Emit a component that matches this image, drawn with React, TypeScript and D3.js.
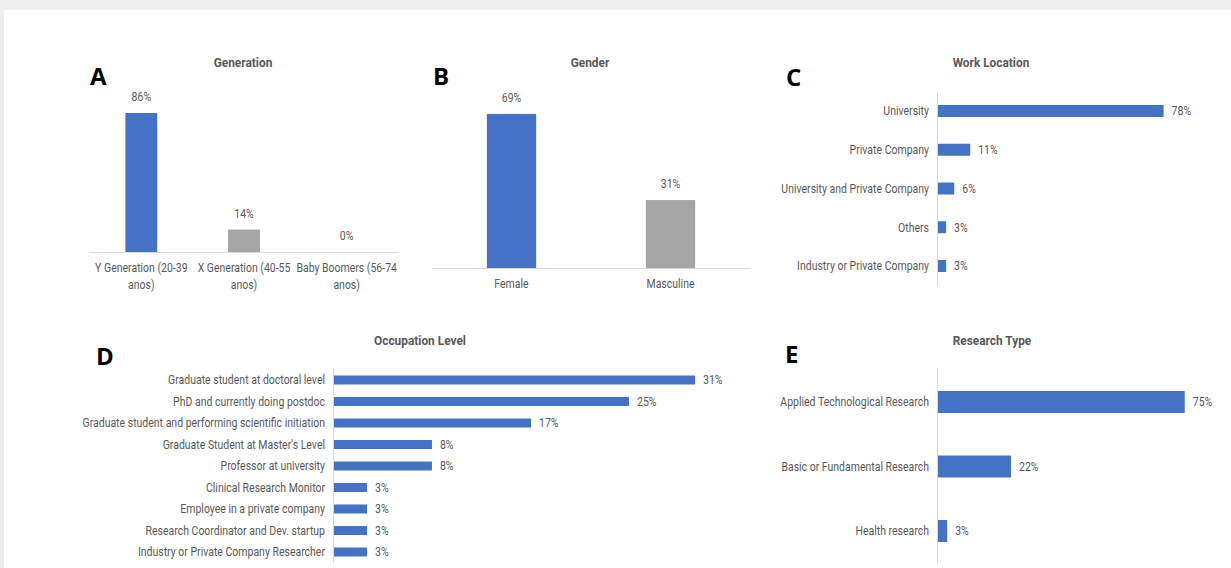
import React from "react";
import * as d3 from "d3";

const genCategories = ["Y Generation (20-39|anos)", "X Generation (40-55|anos)", "Baby Boomers (56-74|anos)"];
const genValues = [0.861, 0.139, 0.0];
const genderCategories = ["Female", "Masculine"];
const genderValues = [0.694, 0.306];
const workCategories = ["University", "Private Company", "University and Private Company", "Others", "Industry or Private Company"];
const workValues = [0.778, 0.111, 0.056, 0.028, 0.028];
const occCategories = [
  "Graduate student at doctoral level",
  "PhD and currently doing postdoc",
  "Graduate student and performing scientific initiation",
  "Graduate Student at Master's Level",
  "Professor at university",
  "Clinical Research Monitor",
  "Employee in a private company",
  "Research Coordinator and Dev. startup",
  "Industry or Private Company Researcher",
];
const occValues = [0.306, 0.25, 0.167, 0.083, 0.083, 0.028, 0.028, 0.028, 0.028];
const researchCategories = ["Applied Technological Research", "Basic or Fundamental Research", "Health research"];
const researchValues = [0.75, 0.222, 0.028];

const BLUE = "#4472C4";
const GRAY = "#A5A5A5";
const TXT = "#595959";
const AXIS = "#D9D9D9";
const FONT = "Roboto, 'Liberation Sans', sans-serif";
const pct = d3.format(".0%");

type TProps = { x: number; y: number; anchor?: string; size?: number; weight?: number; sx?: number; mid?: boolean; children: React.ReactNode };
function T({ x, y, anchor = "start", size = 12.5, weight = 400, sx = 0.84, mid = false, children }: TProps) {
  return (
    <text transform={`translate(${x},${y}) scale(${sx},1)`} textAnchor={anchor} dy={mid ? "0.35em" : undefined}
      fontFamily={FONT} fontSize={size} fontWeight={weight} fill={TXT}>{children}</text>
  );
}

type VProps = {
  cats: string[]; vals: number[]; colors: string[];
  x0: number; x1: number; base: number; top: number; barFrac: number;
  title: string; tx: number; ty: number; letter: string; lx: number; ly: number;
};

function VerticalPanel(p: VProps) {
  const x = d3.scaleBand<string>().domain(p.cats).range([p.x0, p.x1]).padding(0);
  const y = d3.scaleLinear().domain([0, 1]).range([p.base, p.top]);
  const bw = x.bandwidth() * p.barFrac;
  return (
    <g>
      <text x={p.lx} y={p.ly} fontFamily="'Open Sans', sans-serif" fontWeight={700} fontSize={24} fill="#000">{p.letter}</text>
      <T x={p.tx} y={p.ty} anchor="middle" mid size={13.5} weight={700} sx={0.88}>{p.title}</T>
      {p.cats.map((c, i) => {
        const cx = (x(c) as number) + x.bandwidth() / 2;
        return (
          <g key={c}>
            {p.vals[i] > 0 && (
              <rect x={cx - bw / 2} y={y(p.vals[i])} width={bw} height={p.base - y(p.vals[i])} fill={p.colors[i % p.colors.length]} />
            )}
            <T x={cx} y={y(p.vals[i]) - 12} anchor="middle">{pct(p.vals[i])}</T>
            {c.split("|").map((line, j) => (
              <T key={j} x={cx} y={p.base + 20 + j * 17} anchor="middle">{line}</T>
            ))}
          </g>
        );
      })}
      <line x1={p.x0} x2={p.x1} y1={p.base + 0.5} y2={p.base + 0.5} stroke={AXIS} strokeWidth={1} />
    </g>
  );
}

type HProps = {
  cats: string[]; vals: number[]; axisX: number; perUnit: number;
  y0: number; y1: number; barH: number; lineY0: number; lineY1: number;
  title: string; tx: number; ty: number; letter: string; lx: number; ly: number;
};

function HorizontalPanel(p: HProps) {
  const y = d3.scaleBand<string>().domain(p.cats).range([p.y0, p.y1]).padding(0);
  const x = d3.scaleLinear().domain([0, 1]).range([p.axisX + 1, p.axisX + 1 + p.perUnit]);
  return (
    <g>
      <text x={p.lx} y={p.ly} fontFamily="'Open Sans', sans-serif" fontWeight={700} fontSize={24} fill="#000">{p.letter}</text>
      <T x={p.tx} y={p.ty} anchor="middle" mid size={13.5} weight={700} sx={0.88}>{p.title}</T>
      {p.cats.map((c, i) => {
        const cy = (y(c) as number) + y.bandwidth() / 2;
        return (
          <g key={c}>
            <rect x={x(0)} y={cy - p.barH / 2} width={x(p.vals[i]) - x(0)} height={p.barH} fill={BLUE} />
            <T x={p.axisX - 8} y={cy} mid anchor="end">{c}</T>
            <T x={x(p.vals[i]) + 8} y={cy} mid anchor="start">{pct(p.vals[i])}</T>
          </g>
        );
      })}
      <line x1={p.axisX + 0.5} x2={p.axisX + 0.5} y1={p.lineY0} y2={p.lineY1} stroke={AXIS} strokeWidth={1} />
    </g>
  );
}

export default function App() {
  return (
    <div style={{ position: "absolute", left: 0, top: 0, width: 1231, height: 568, overflow: "hidden" }}>
      <svg width={1231} height={568} style={{ display: "block" }}>
        <rect x={0} y={0} width={1231} height={568} fill="#EEEEEE" />
        <rect x={4} y={10} width={1227} height={558} fill="#FFFFFF" />
        <VerticalPanel cats={genCategories} vals={genValues} colors={[BLUE, GRAY, GRAY]}
          x0={90} x1={398} base={252} top={90.6} barFrac={0.31}
          title="Generation" tx={243} ty={62} letter="A" lx={90} ly={85} />
        <VerticalPanel cats={genderCategories} vals={genderValues} colors={[BLUE, GRAY]}
          x0={432} x1={750} base={268} top={46} barFrac={0.31}
          title="Gender" tx={590} ty={62} letter="B" lx={433} ly={85} />
        <HorizontalPanel cats={workCategories} vals={workValues} axisX={937} perUnit={290}
          y0={91.6} y1={285.4} barH={12} lineY0={92} lineY1={286}
          title="Work Location" tx={991} ty={62} letter="C" lx={786} ly={86} />
        <HorizontalPanel cats={occCategories} vals={occValues} axisX={333} perUnit={1180}
          y0={369.25} y1={562.75} barH={9} lineY0={368} lineY1={563}
          title="Occupation Level" tx={420} ty={340} letter="D" lx={96} ly={365} />
        <HorizontalPanel cats={researchCategories} vals={researchValues} axisX={937} perUnit={329}
          y0={369.75} y1={563.25} barH={22} lineY0={368} lineY1={563}
          title="Research Type" tx={992} ty={340} letter="E" lx={785} ly={363} />
      </svg>
    </div>
  );
}
